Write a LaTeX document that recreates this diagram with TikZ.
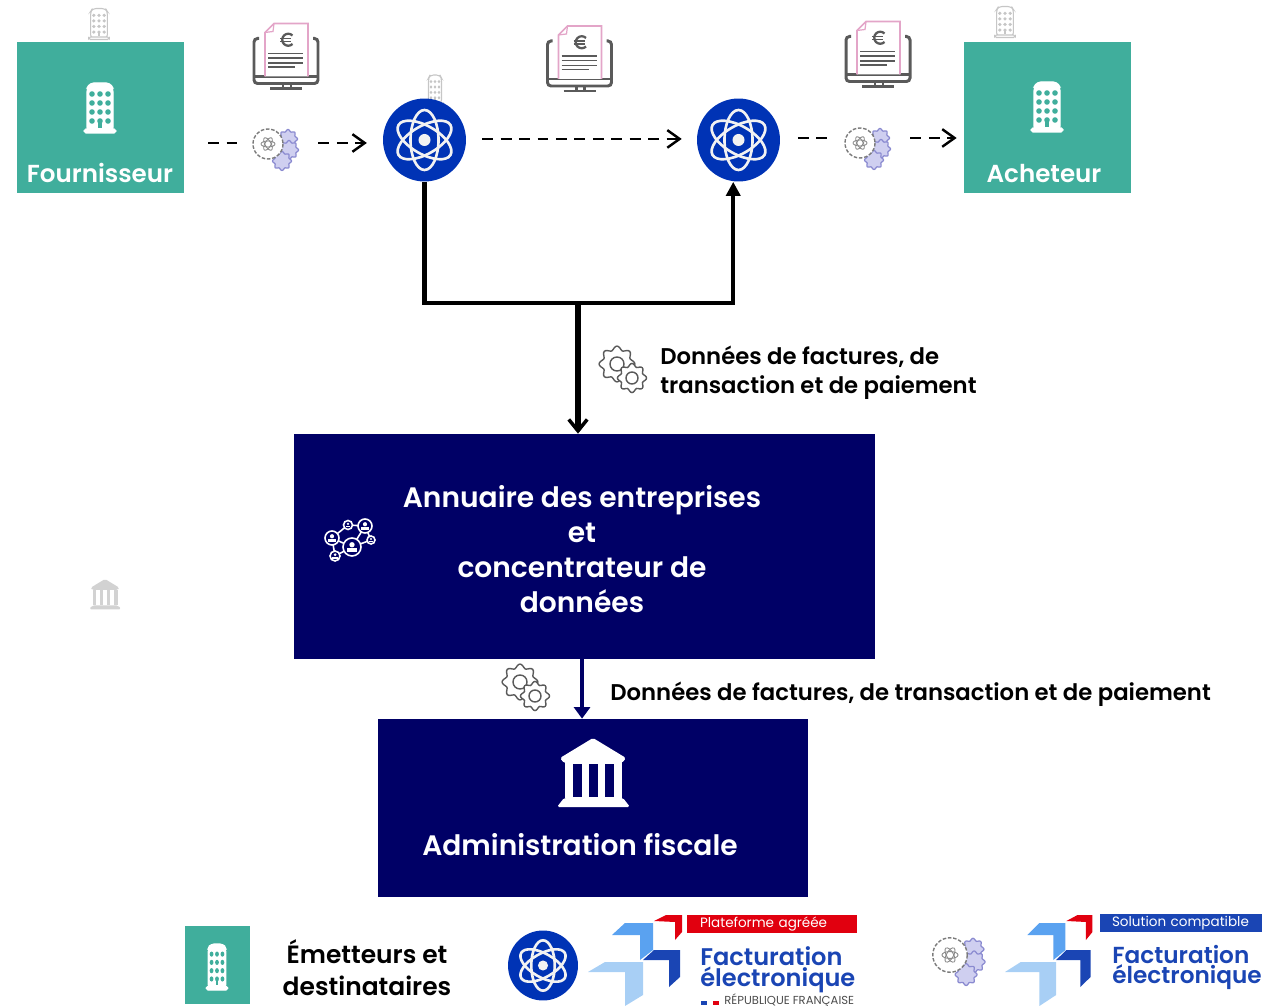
\documentclass[tikz,border=0pt]{standalone}
\usepackage{fontspec}
\setmainfont{Poppins}[BoldFont={Poppins SemiBold}]
\usetikzlibrary{arrows.meta}
\definecolor{tealbox}{HTML}{40AE9C}
\definecolor{navybox}{HTML}{000066}
\definecolor{platblue}{HTML}{0033B5}
\definecolor{logoblue}{HTML}{1A45B4}
\definecolor{midblue}{HTML}{5AA2F0}
\definecolor{lightblue}{HTML}{A8CFF5}
\definecolor{logored}{HTML}{E1000F}
\definecolor{docpink}{HTML}{E3A5C8}
\definecolor{iconline}{HTML}{5A5A5A}
\definecolor{cogline}{HTML}{8A8AD0}
\definecolor{cogfill}{HTML}{CFCFF0}
\newcommand{\cogoutline}[1]{plot[domain=0:360,samples=73] (\x:{#1*(1+.12*cos(8*\x))})}

\begin{document}
\begin{tikzpicture}[x=0.02cm,y=-0.02cm]
    \useasboundingbox (0,0) rectangle (1272,1006);
    \tikzstyle{partybox}=[rectangle,fill=tealbox,minimum width=3.34cm,minimum height=3.02cm]
    \tikzstyle{platform}=[circle,fill=platblue,minimum size=1.66cm,inner sep=0pt]
    \tikzstyle{navyblock}=[rectangle,fill=navybox]
    \tikzstyle{boxlabel}=[text=white,font=\bfseries\fontsize{14}{18}\selectfont]
    \tikzstyle{biglabel}=[text=white,align=center,font=\bfseries\fontsize{16}{19.8}\selectfont]
    \tikzstyle{datalabel}=[anchor=west,align=left,inner sep=0pt,font=\bfseries\fontsize{12.95}{16.4}\selectfont]
    \tikzstyle{tagbar}=[rectangle,anchor=center,text=white,minimum height=0.38cm,inner ysep=0pt,align=left,font=\fontsize{7.7}{9}\selectfont]
    \tikzstyle{logotext}=[anchor=west,inner sep=0pt,text=logoblue,align=left,font=\bfseries\fontsize{13.7}{11.8}\selectfont]
    \tikzstyle{dashflow}=[-{Straight Barb[length=7pt,width=10pt]},line width=1.4pt,dash pattern=on 6.2pt off 4.3pt]
    \tikzstyle{nullflow}=[line width=1.4pt,dash pattern=on 6.2pt off 4.3pt]
    \tikzset{
      pics/tower/.style n args={3}{code={
        \draw[fill=#1,draw=#2,line width=0.6pt,rounded corners=2pt] (-13,23) -- (-13,-20) -- (-10,-25) -- (10,-25) -- (13,-20) -- (13,23) -- cycle;
        \draw[fill=#1,draw=#2,line width=0.6pt,rounded corners=1pt] (-16,21) rectangle (16,25);
        \foreach \wy in {-14,-5,4,13}
          \foreach \wx in {-8,0,8}
            \fill[#3] (\wx,\wy) circle[radius=2.8];
        \fill[#3] (-2,12) rectangle (2,20);
      }},
      pics/atom/.style={code={
        \foreach \tilt in {0,60,120}
          \draw[white!90!gray,line width=1.5pt,rotate=\tilt] (0,0) ellipse[x radius=14,y radius=30];
        \fill[white!90!gray] (0,0) circle[radius=6];
      }},
      pics/cogpair/.style={code={
        \draw[iconline,line width=0.8pt,fill=white] \cogoutline{16};
        \draw[iconline,line width=0.8pt] (0,0) circle[radius=7];
        \begin{scope}[shift={(15,14)}]
          \draw[iconline,line width=0.8pt,fill=white] \cogoutline{13};
          \draw[iconline,line width=0.8pt] (0,0) circle[radius=6];
        \end{scope}
      }},
      pics/purplecogs/.style={code={
        \foreach \cx/\cy in {20/-5,21/6,14/17}
          \draw[cogline,line width=0.7pt,fill=cogfill,shift={(\cx,\cy)}] \cogoutline{8.5};
        \draw[iconline!80,line width=0.8pt,fill=white,dash pattern=on 2pt off 1pt] (0,0) circle[radius=15];
        \foreach \tilt in {0,60,120}
          \draw[iconline!70,line width=0.5pt,rotate=\tilt] (0,0) ellipse[x radius=7,y radius=3];
      }},
      pics/invoice/.style={code={
        \draw[iconline,line width=1.7pt,rounded corners=2pt] (-27,-23) -- (-32,-23) -- (-32,22) -- (32,22) -- (32,-23) -- (27,-23);
        \draw[iconline,line width=1.5pt] (-32,15) -- (32,15) (-3,22) -- (-3,27) (5,22) -- (5,27);
        \draw[iconline,line width=1.5pt] (-16,27) -- (16,27);
        \draw[docpink,line width=0.9pt,fill=white] (-21,15) -- (-21,-29) -- (-12,-38) -- (22,-38) -- (22,15);
        \draw[docpink,line width=0.7pt] (-21,-29) -- (-13,-30) -- (-12,-38);
        \draw[iconline,line width=1.3pt] (6.5,-26) arc[start angle=-45,end angle=-315,radius=6];
        \draw[iconline,line width=0.7pt] (-6,-23) -- (5,-23) (-6,-20) -- (5,-20);
        \draw[iconline,line width=0.8pt] (-18,-8) -- (17,-8) (-18,-3.5) -- (17,-3.5) (-18,1.5) -- (17,1.5) (-18,5.5) -- (9,5.5);
      }},
      pics/bank/.style 2 args={code={
        \fill[#1,rounded corners=1pt] (-33,-14) -- (0,-34) -- (33,-14) -- (29,-9) -- (-29,-9) -- cycle;
        \fill[#1] (-28,-10) rectangle (29,26);
        \fill[#1,rounded corners=1pt] (-36,35) -- (-29,26) -- (30,26) -- (37,35) -- cycle;
        \foreach \sx in {-20,-4,12}
          \fill[#2] (\sx,-8) rectangle ++(9,33);
      }},
      pics/hubnet/.style={code={
        \draw[white,line width=0.9pt] (-18,-2) -- (-2,-15) -- (15,-14) -- (21,0) -- (2,7) -- (-18,-2) (-15,16) -- (-18,-2) (-15,16) -- (2,7) (15,-14) -- (2,7);
        \foreach \nx/\ny/\nr in {-18/-2/7,-2/-15/4.5,15/-14/7,21/0/4,2/7/9,-15/16/5} {
          \draw[white,line width=0.9pt,fill=navybox] (\nx,\ny) circle[radius=\nr];
          \fill[white] (\nx,\ny-0.25*\nr) circle[radius=0.3*\nr];
          \fill[white] (\nx-0.55*\nr,\ny+0.55*\nr) rectangle (\nx+0.55*\nr,\ny+0.15*\nr);
        }
      }},
      pics/arrowlogo/.style={code={
        \fill[logored] (66,6) -- (78,0) -- (94,0) -- (94,17) -- (87,25) -- (87,7) -- cycle;
        \fill[midblue] (24,20) -- (37,8) -- (65,8) -- (65,35) -- (52,45) -- (52,20) -- cycle;
        \fill[logoblue] (55,45) -- (66,35) -- (92,35) -- (92,62) -- (81,72) -- (81,45) -- cycle;
        \fill[lightblue] (0,57) -- (17,47) -- (55,47) -- (55,80) -- (37,91) -- (37,57) -- cycle;
      }}
    }

    \pic[xscale=.65,yscale=.62] at (99,24) {tower={white}{gray!45}{gray!45}};
    \pic[xscale=.65,yscale=.62] at (1005,22) {tower={white}{gray!45}{gray!45}};
    \pic[xscale=.5,yscale=.6] at (435,90) {tower={white}{gray!45}{gray!45}};
    \pic[scale=.44] at (105,594) {bank={gray!35}{white}};

    \node[partybox] (fourn) at (100.5,117.5) {};
    \node[partybox] (acheteur) at (1047.5,117.5) {};
    \node[boxlabel] (fournlabel) at (100,173) {Fournisseur};
    \node[boxlabel] (acheteurlabel) at (1044,174) {Acheteur};
    \pic at (100,108) {tower={white}{white}{tealbox}};
    \pic at (1047,107) {tower={white}{white}{tealbox}};

    \node[platform] (platA) at (424.5,140) {};
    \node[platform] (platB) at (738.5,140) {};
    \pic at (platA) {atom};
    \pic at (platB) {atom};

    \pic at (286,61.5) {invoice};
    \pic at (579.5,64) {invoice};
    \pic at (878,59.5) {invoice};

    \node[minimum width=1.62cm,inner sep=0pt] (cogsA) at (277.5,143) {};
    \node[minimum width=1.64cm,inner sep=0pt] (cogsB) at (869,138) {};
    \pic at (268,144) {purplecogs};
    \pic at (860,143) {purplecogs};

    \node[navyblock,minimum width=11.62cm,minimum height=4.5cm] (annuaire) at (584.5,546.5) {};
    \node[biglabel] (annuairelabel) at (582,549) {Annuaire des entreprises\\et\\concentrateur de\\données};
    \pic at (350,540) {hubnet};

    \node[navyblock,minimum width=8.6cm,minimum height=3.56cm] (admin) at (593,808) {};
    \node[biglabel] (adminlabel) at (580,845) {Administration fiscale};
    \pic at (593,772) {bank={white}{navybox}};

    \draw[nullflow] (fourn.east |- cogsA) [shorten <=13.6pt] -- (cogsA.west);
    \draw[dashflow,shorten >=9pt] (cogsA.east) -- (platA.west |- cogsA);
    \draw[dashflow,shorten <=9pt,shorten >=8.5pt] ([yshift=0.6pt]platA.east) -- ([yshift=0.6pt]platB.west);
    \draw[nullflow] (platB.east |- cogsB) [shorten <=10pt] -- (cogsB.west);
    \draw[dashflow,shorten >=4pt] (cogsB.east) -- (acheteur.west |- cogsB);

    \coordinate (branch) at (578,303);
    \draw[line width=2.3pt] (platA.south) |- (branch);
    \draw[-{Triangle[length=8pt,width=8pt]},line width=2.3pt] (branch) -| ([xshift=-3pt]platB.south);
    \draw[-{Straight Barb[length=6.5pt,width=10.5pt,line width=2pt]},line width=3.8pt] (branch) -- (branch |- annuaire.north);
    \draw[navybox,-{Triangle[length=6.5pt,width=9pt]},line width=2pt] ([xshift=-1.4pt]annuaire.south) -- ([xshift=-1.4pt]annuaire.south |- admin.north);

    \pic at (617,364) {cogpair};
    \pic at (520,682) {cogpair};
    \node[datalabel] (datatop) at (660,372.5) {Données de factures, de\\transaction et de paiement};
    \node[datalabel] (databottom) at (610,694) {Données de factures, de transaction et de paiement};

    \node[partybox,minimum width=1.3cm,minimum height=1.56cm] (legendparty) at (217.5,965) {};
    \pic[xscale=.68,yscale=.92] at (217,967) {tower={white}{white}{tealbox}};
    \node[datalabel,anchor=center,align=center,font=\bfseries\fontsize{14.2}{18.2}\selectfont] (legendtext) at (367,968) {Émetteurs et\\destinataires};

    \node[platform,minimum size=1.4cm] (legendplat) at (543,965.5) {};
    \pic[scale=.84] at (legendplat) {atom};
    \pic at (588,915) {arrowlogo};
    \node[tagbar,fill=logored,inner xsep=.26cm,text width=2.88cm] (tagA) at (772,924) {Plateforme agréée};
    \node[logotext] (logotextA) at (700,970) {Facturation\\électronique};
    \fill[logoblue] (701,1001) rectangle (707,1005);
    \fill[logored] (713,1001) rectangle (719,1005);
    \node[anchor=west,inner sep=0pt,text=black!70,font=\fontsize{6.6}{7}\selectfont] (republic) at (724,1001) {RÉPUBLIQUE FRANÇAISE};

    \pic[scale=1.15] at (950,955) {purplecogs};
    \pic[xscale=.93] at (1005,915) {arrowlogo};
    \node[tagbar,fill=logoblue,inner xsep=.24cm,text width=2.76cm] (tagB) at (1181,923) {Solution compatible};
    \node[logotext,font=\bfseries\fontsize{13.2}{11.8}\selectfont] (logotextB) at (1112,967.5) {Facturation\\électronique};
  \end{tikzpicture}
\end{document}
